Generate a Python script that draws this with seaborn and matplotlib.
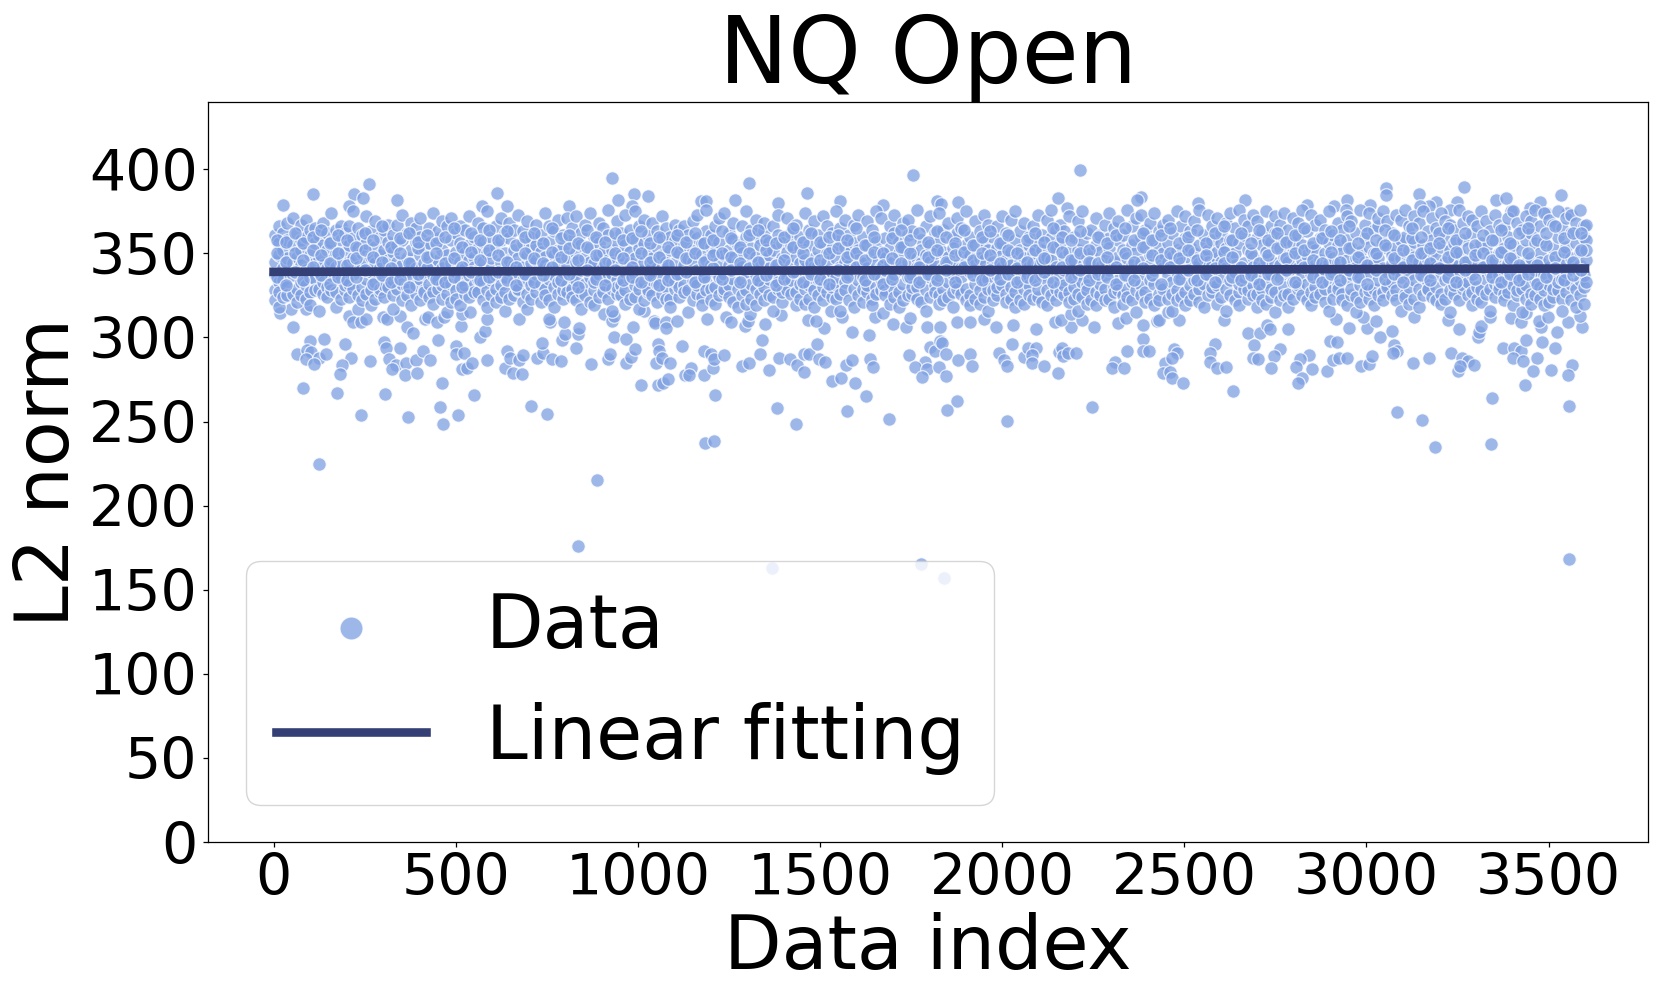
import matplotlib
matplotlib.use("Agg")
import matplotlib.pyplot as plt
import pandas as pd
import seaborn as sns

title = "NQ Open"
x_label = "Data index"
y_label = "L2 norm"
fit_x = [0, 3600]
fit_y = [339, 341]
x_ticks = [0, 500, 1000, 1500, 2000, 2500, 3000, 3500]
y_ticks = [0, 50, 100, 150, 200, 250, 300, 350, 400]

sparse_points = [
(25,379),(109,385),(222,385),(262,391),(245,383),(206,378),(338,382),(614,386),(929,395),(946,382),(989,385),(1028,384),(1304,392),(1266,382),(1172,381),(1187,381),(1384,380),(1463,386),(1554,381),(1672,379),(642,378),(572,378),(984,378),(811,378),
(17,314.5),(49,317),(89,317),(54,306),(99,298),(138,299),(65,290),(91,292.5),(104,291.5),(88,287),(124,288),(143,290),(112,284.5),(197,296),(213,288),(189,283.5),(181,278),(82,270),(173,267),(265,286),(304,297),(310,294),(347,294),(317,287),(336,283.5),(326,281),(364,285),(390,286.5),(361,277.5),(393,278.6),(411,292),(430,286.5),(451,298.4),(461,272.7),(305,266.5),(239,253.7),(369,252.7),(457,258.8),(505,254),(466,248.7),(549,266),(502,295),(500,290),(523,290.7),(517,281),(531,281.8),(544,285),(586,286.5),(567,300),(581,304),(634,282),(640,291.7),(648,288),(658,279),(683,278),(674,286.5),(686,289.7),(706,259),(750,254.7),(723,288),(740,291),(736,296.6),(765,287.3),(788,285.8),(792,298.4),(800,302),(835,302),(830,293.7),(839,305.8),(871,284),(917,287),(923,290.3),(934,300),(967,299),(968,285),(980,288.5),(993,293),(987,306),(1009,271.5),(1054,296.4),(1058,291.7),(1050,285),(1066,287.7),(1087,285),(1120,294.9),(1056,272),(1070,273),(1083,275),(1130,277.4),(1145,281.6),(1140,277.8),(1181,291.7),(1181,277.4),(1205,282),(1202,290),(1210,287),(1236,289.5),(1212,265.6),(1183,237.4),(1208,238.6),(1287,283),(1306,284.6),(1336,290),(1342,298.6),(1361,280.4),(1388,288),(1419,287),(1437,283.8),(1456,290),(1471,290),(1496,287),(1513,285.5),(1456,279.4),(1493,296),(1512,305.4),(1533,274),(1558,275.6),(1572,283.6),(1587,286.3),(1597,273),(1589,303),(1635,301.4),(1636,287),(1646,282.6),(1700,308),(1625,265),(1573,256),(1381,258),(1435,248.5),(1689,251.3),
(208,313),(219,309),(240,309),(253,311),(301,312),(311,311),(346,313),(366,306),(382,302.4),(417,311),(425,312),(449,309),(467,312),(515,307),(516,314),(539,315),(587,311),(673,311),(759,309),(757,311),(798,309),(908,314),(929,310),(935,313),(1018,315.5),(1044,310),(1046,308.3),(1077,309),(1077,305.4),(1108,309.5),(1190,310.7),(1243,312),(1255,309),(1294,307),(1303,310),(1309,314),(1349,308),(1392,313.5),(1468,310.5),(1490,310),(1529,316),(1561,312),(1650,312),(1674,314.6),
(1755,396.6),(2214,399.6),(1820,381),(1833,379.6),(1880,380.4),(2153,383),(2178,377),(2381,383.8),(2369,381.6),(2538,379.8),(2667,381.6),(2838,379),(2912,378.4),(2948,382),(2943,375.6),(3011,378.8),(3055,388.7),(3053,384.8),(3144,385.4),(3269,389.7),(3192,380.8),(3171,378),(3147,378),(3248,380.6),(3229,376),(3356,381.6),(3384,382.8),(3476,380.6),(3450,377),(3533,384.8),(3396,375),(3550,374),(3494,374),
(1735,306.3),(1747,311.5),(1745,289.7),(1795,306.3),(1829,306),(1803,294.5),(1816,291.7),(1829,297.6),(1836,296.6),(1847,290),(1788,285.7),(1761,282.6),(1793,281),(1827,282.2),(1780,276.6),(1845,277),(1880,286.7),(1913,290.3),(1917,283.2),(1877,309.3),(1912,309),(1949,310.7),(1982,306.5),(2029,307.3),(2094,305),(1992,291),(2004,286.7),(2013,282.8),(2026,296.4),(1877,262),(1848,256.8),(2014,250.5),(2060,288.3),(2070,294),(2092,294),(2082,289.5),(2081,284.8),(2114,282.8),(2153,278.8),(2156,291.3),(2165,293.7),(2166,289),(2181,291),(2203,291),(2246,258.8),(2190,306.3),(2145,309),(2161,310.5),(2189,313.7),(2220,310.5),(2253,306),(2318,308.3),(2339,311.7),(2386,307.5),(2386,299),(2342,291.7),(2386,291.7),(2402,291.7),(2310,285.7),(2302,281.6),(2334,281.6),(2426,310),(2431,310.3),(2485,310.5),(2455,315),(2446,285),(2471,293),(2479,290.5),(2466,288),(2441,278.8),(2461,279.4),(2467,275.8),(2497,272.7),(2610,310.5),(2583,296.4),(2570,291),(2572,285.7),(2590,281.8),(2614,282.2),(2634,268),(2676,302.8),(2708,302.8),(2727,307.5),(2736,305),(2786,305),(2691,295.6),(2762,293.3),(2746,289),(2690,287.7),(2703,287),(2738,281.8),(2842,289.7),(2818,287),(2807,282.6),(2852,281.4),(2822,276),(2811,272.7),(2892,280),(2908,286.5),(2924,288),(2947,288),(2901,298),(2919,297),(2916,310.7),(2951,305.5),(3001,305.4),(3025,310),(2992,312),(2985,283),(3007,284.2),(3016,289),(3036,300.4),(3069,303.8),(3077,295.4),(3085,291.7),(3072,291),(3131,312),(3127,285),(3171,288),(3083,255.6),(3153,251),(3189,234.7),(3341,236.6),(3225,310.5),(3253,304.8),(3232,291),(3262,288),(3278,286),(3296,283.6),(3252,280),(3258,283),(3305,300),(3309,303),(3314,307),(3340,312),(3374,293.7),(3406,294),(3425,291.7),(3402,287.5),(3429,286),(3468,288),(3457,280),(3508,280.8),(3436,272),(3346,264),(3438,298.6),(3481,297),(3518,294),(3398,311.5),(3425,309),(3438,314.5),(3478,306),(3474,310),(3498,312),(3522,303),(3554,309),(3591,306),(3587,313),(3563,283.6),(3554,277.8),(3557,259),
(837,176),(889,215),(125,224.5),(1369,163),(1776,165.5),(1840,157),(3555,168.5),
]

cloud_rows = [
(4,345,328,361,322,338),(14,356,333,366,327,349,318),(27,341,362,324,352,334),(38,368,330,347,325,358),(52,337,355,371,326,344),(63,329,362,348,321,340),(76,352,367,333,325,343,358),(88,340,323,360,331,370),(99,349,364,327,336,319),(113,335,356,344,365,328),
(124,361,329,347,339,316),(136,343,368,326,355,333),(148,330,352,362,324,341),(159,346,337,374,328,357),(171,327,364,342,350,318),(184,358,334,366,323,345),(196,339,351,328,362,331),(207,366,332,345,355,324),(219,347,329,375,338,359),(231,325,353,342,365,317),
(244,341,361,330,350,322),(255,372,335,345,326,356),(267,328,348,363,339,319),(279,354,333,369,323,344),(291,342,360,327,349,329),(303,364,336,352,324,331),(315,330,346,367,340,357),(328,351,325,361,334,317),(340,338,367,329,345,355),(353,322,358,343,373,332),
(365,347,330,362,325,339),(378,368,336,352,319,344),(390,326,357,341,365,331),(402,349,322,371,335,360),(414,338,353,328,344,327),(427,365,332,348,324,356),(439,343,374,327,337,320),(451,329,359,346,363,334),(463,352,323,341,369,331),(476,337,366,326,349,315),
(488,358,332,344,321,371),(500,328,351,362,339,323),(512,345,366,334,356,319),(525,326,364,341,350,331),(537,355,337,372,324,346),(549,331,348,360,327,342),(561,368,335,353,327,340),(574,322,345,365,333,357),(586,350,328,375,339,318),(598,341,360,325,347,334),
(610,366,329,354,337,321),(623,344,358,331,371,324),(635,327,350,362,336,316),(647,359,340,368,323,346),(659,333,352,325,343,364),(672,373,328,347,338,329),(684,342,356,321,363,334),(696,326,349,369,335,317),(708,353,331,344,360,323),(721,338,367,327,346,355),
(733,321,361,340,332,351),(745,348,329,374,325,343),(757,335,357,322,366,341),(770,363,330,349,337,318),(782,326,344,370,352,333),(794,354,339,323,361,328),(806,343,371,331,348,327),(819,329,358,336,365,324),(831,350,322,345,372,334),(843,340,362,327,355,317),
(856,367,332,347,325,341),(868,321,353,374,336,345),(880,344,328,360,333,319),(893,356,338,368,324,349),(905,331,365,342,327,351),(917,361,323,346,376,336),(930,338,352,329,344,316),(942,369,326,357,334,330),(954,343,362,331,349,325),(966,328,355,373,339,320),
(979,351,335,364,323,344),(991,324,347,358,331,375),(1003,340,366,329,353,317),(1016,356,333,345,370,322),(1028,327,361,338,350,328),(1040,368,342,325,347,334),(1052,332,354,363,321,341),(1065,349,326,372,337,359),(1077,341,365,330,323,345),(1089,323,352,336,360,318),
(1102,358,329,344,367,333),(1114,337,350,324,364,330),(1126,366,343,331,355,327),(1138,328,347,361,339,315),(1151,352,369,334,322,345),(1163,340,359,326,373,331),(1175,324,349,337,356,319),(1188,363,333,346,328,376),(1200,343,329,354,322,361),(1212,330,366,339,351,320),
(1224,357,325,345,336,371),(1237,338,374,327,349,329),(1249,352,331,362,324,343),(1261,321,347,368,335,358),(1274,345,329,355,340,318),(1286,366,334,325,350,342),(1298,328,360,339,375,320),(1310,353,323,344,332,364),(1323,337,370,329,348,319),(1335,359,326,342,355,333),
(1347,330,363,346,322,368),(1360,349,335,325,357,341),(1372,324,366,338,352,316),(1384,344,329,361,333,373),(1396,356,321,347,340,327),(1409,336,371,331,351,328),(1421,362,343,326,355,334),(1433,327,348,367,339,319),(1446,353,332,323,360,344),(1458,341,374,329,346,320),
(1470,323,355,337,364,331),(1483,347,328,369,342,318),(1495,361,335,352,325,343),(1507,330,372,340,322,356),(1519,350,327,345,366,334),(1532,339,362,324,353,330),(1544,375,331,347,336,323),(1556,326,358,342,365,316),(1569,354,333,370,328,345),(1581,343,361,322,350,337),
(1593,329,367,340,356,318),(1605,352,325,346,373,334),(1618,336,360,329,344,321),(1630,369,341,327,355,331),(1642,323,349,364,338,319),(1655,357,330,345,375,326),(1667,342,371,335,351,328),(1679,328,359,347,325,340),(1692,366,333,353,320,344),(1704,338,362,329,373,324),
(1716,350,327,343,357,318),(1728,332,368,340,322,354),(1741,361,345,325,370,336),(1753,326,351,337,363,330),(1765,347,330,376,342,323),(1778,358,334,321,352,344),(1790,340,366,328,349,316),(1802,324,355,372,336,345),(1815,362,331,343,327,350),(1827,337,374,325,357,320),
(1839,351,329,364,341,322),(1851,333,348,368,324,344),(1864,359,338,327,353,318),(1876,343,371,331,362,329),(1888,326,350,336,365,341),(1901,375,329,346,322,355),(1913,339,360,325,349,319),(1925,355,332,369,343,323),(1938,328,363,338,347,320),(1950,346,324,357,373,334),
(1962,335,367,329,352,316),(1974,360,341,322,345,328),(1987,325,353,366,337,330),(1999,349,331,372,342,356),(2011,338,362,326,346,321),(2024,370,330,351,323,343),(2036,327,358,340,375,318),(2048,345,334,363,322,352),(2061,368,329,347,338,320),(2073,331,355,325,360,342),
(2085,350,366,336,323,344),(2098,324,343,373,329,357),(2110,361,337,352,321,346),(2122,334,370,328,348,319),(2134,346,325,359,340,376),(2147,329,364,342,353,322),(2159,356,332,367,337,327),(2171,340,348,325,363,331),(2184,372,327,351,344,321),(2196,335,360,323,346,330),
(2208,352,338,369,326,316),(2220,324,357,343,375,333),(2233,347,331,362,328,320),(2245,364,339,350,322,345),(2257,327,371,336,355,319),(2270,351,342,325,361,332),(2282,337,367,329,346,322),(2294,359,323,353,374,340),(2307,330,345,365,327,318),(2319,348,334,358,369,328),
(2331,325,361,341,352,320),(2343,376,337,329,347,324),(2356,343,355,366,322,333),(2368,328,351,371,339,315),(2380,360,331,345,325,373),(2393,338,364,327,354,321),(2405,349,323,343,368,334),(2417,332,358,374,340,319),(2430,353,326,347,363,322),(2442,341,367,330,350,329),
(2454,323,356,337,370,345),(2467,362,333,348,326,316),(2479,339,375,328,352,322),(2491,351,344,366,324,335),(2503,327,359,340,372,319),(2516,347,331,363,322,354),(2528,334,369,342,326,350),(2540,376,329,355,321,344),(2553,340,361,332,348,318),(2565,325,352,373,337,345),
(2577,358,343,327,366,330),(2590,331,371,347,351,320),(2602,345,362,336,324,356),(2614,368,329,341,353,316),(2626,334,358,374,325,347),(2639,350,339,365,322,343),(2651,327,376,332,356,319),(2663,361,344,370,329,336),(2676,338,352,323,366,328),(2688,348,373,331,342,325),
(2700,326,359,369,335,318),(2713,355,341,363,329,322),(2725,333,375,346,351,320),(2737,366,324,338,357,329),(2749,344,362,327,372,315),(2762,322,353,336,367,343),(2774,358,330,348,374,325),(2786,339,364,326,345,318),(2799,351,371,333,323,356),(2811,329,361,341,368,331),
(2823,346,325,355,337,376),(2836,363,332,349,322,342),(2848,327,373,338,354,319),(2860,352,343,367,330,324),(2872,336,359,370,326,346),(2885,364,321,350,340,329),(2897,344,375,333,356,316),(2909,328,361,347,323,339),(2922,355,368,331,345,329),(2934,340,326,364,351,322),
(2946,372,335,346,358,319),(2959,325,353,369,338,329),(2971,347,362,324,342,315),(2983,331,376,351,336,321),(2995,359,342,327,367,345),(3008,338,374,323,354,328),(3020,350,329,364,344,319),(3032,366,334,371,325,347),(3045,327,357,341,375,322),(3057,353,339,369,331,330),
(3069,344,362,325,349,333),(3082,373,328,354,322,340),(3094,336,370,347,358,316),(3106,360,326,343,376,324),(3118,330,352,366,338,320),(3131,348,372,323,357,334),(3143,341,368,329,345,318),(3155,325,355,375,336,350),(3168,363,333,346,328,329),(3180,339,371,351,324,358),
(3192,347,330,365,342,322),(3205,374,326,354,337,320),(3217,334,360,345,323,369),(3229,352,328,367,340,315),(3241,326,364,347,331,356),(3254,343,376,336,322,350),(3266,358,329,368,341,331),(3278,333,372,346,325,353),(3291,362,338,327,370,319),(3303,345,351,323,366,330),
(3315,328,375,356,340,321),(3328,354,335,369,326,343),(3340,339,363,329,348,316),(3352,373,324,346,358,332),(3365,331,367,350,337,329),(3377,353,341,365,326,322),(3390,327,360,344,371,334),(3402,348,375,331,355,319),(3414,338,368,325,342,328),(3426,364,329,352,336,315),
(3439,344,372,323,358,331),(3451,326,362,347,369,320),(3463,356,334,376,340,325),(3476,330,350,366,323,345),(3488,374,337,328,357,319),(3500,342,370,346,331,321),(3512,353,324,367,338,329),(3525,328,360,375,343,333),(3537,349,335,365,323,316),(3549,371,339,327,354,344),
(3561,332,362,347,322,373),(3574,356,329,368,341,318),(3586,343,376,325,351,334),(3596,366,330,360,337,320),(3604,358,333,367,346,352),
]

inner_rows = [
(9,350,336,358),(33,345,357,331),(58,362,339,350),(82,334,356,346),(107,342,360,352),(130,337,349,364),(154,356,332,344),(178,350,361,336),(201,343,358,334),(225,336,354,347),
(250,352,340,362),(273,358,332,348),(297,345,366,337),(322,354,341,333),(346,359,335,350),(371,344,362,330),(396,353,338,357),(420,341,361,348),(445,356,335,350),(470,360,344,333),
(494,347,336,365),(518,354,342,330),(543,339,362,351),(567,358,346,334),(592,336,352,364),(616,349,339,358),(641,363,334,345),(665,355,342,331),(690,338,360,350),(714,347,333,362),
(739,356,344,337),(763,342,365,351),(788,334,348,359),(812,361,338,353),(837,346,330,356),(861,354,340,364),(886,335,349,360),(911,357,344,331),(936,340,362,350),(960,347,334,358),
(985,359,342,336),(1009,350,363,333),(1034,345,337,356),(1058,360,348,331),(1083,334,354,343),(1107,351,361,338),(1132,339,357,347),(1157,362,333,350),(1181,345,356,336),(1206,358,341,349),
(1230,335,363,350),(1255,348,340,359),(1280,354,333,344),(1304,341,361,350),(1329,364,345,334),(1353,337,352,358),(1378,356,343,331),(1402,346,360,335),(1427,339,354,365),(1452,350,333,357),
(1476,344,362,338),(1501,357,346,335),(1525,332,350,360),(1550,361,340,353),(1575,348,336,358),(1599,342,365,350),(1624,355,334,346),(1648,338,360,351),(1673,350,343,332),(1697,359,335,347),
(1722,344,354,364),(1747,336,350,358),(1771,362,342,333),(1796,348,357,338),(1820,334,352,363),(1845,345,360,340),(1870,356,333,349),(1894,342,364,351),(1919,337,355,346),(1944,360,334,350),
(1968,349,340,363),(1993,335,356,344),(2017,352,361,338),(2042,341,350,333),(2067,358,345,336),(2091,334,362,352),(2116,347,339,357),(2140,354,365,333),(2165,342,351,360),(2190,336,346,358),
(2214,363,340,350),(2239,352,334,345),(2263,344,360,338),(2288,336,356,348),(2312,361,342,332),(2337,350,337,365),(2362,345,358,334),(2386,354,341,362),(2411,337,349,358),(2436,361,332,346),
(2460,350,342,365),(2485,335,356,347),(2509,360,340,352),(2534,346,334,364),(2559,356,338,349),(2583,341,362,333),(2608,351,366,344),(2632,336,358,348),(2657,362,342,334),(2682,350,356,337),
(2706,344,364,332),(2731,358,349,338),(2755,335,353,362),(2780,347,340,357),(2805,361,333,350),(2829,342,365,352),(2854,336,356,346),(2878,359,344,333),(2903,351,338,363),(2928,345,358,334),
(2952,340,353,366),(2977,356,336,348),(3001,362,343,332),(3026,350,340,358),(3051,335,355,364),(3075,347,361,338),(3100,342,352,333),(3124,359,346,365),(3149,337,350,360),(3174,353,334,344),
(3198,362,341,356),(3223,348,336,365),(3247,333,358,351),(3272,345,362,340),(3297,355,335,349),(3321,342,361,350),(3346,358,336,346),(3370,351,364,333),(3395,338,356,347),(3420,362,343,334),
(3444,350,338,365),(3469,343,358,332),(3494,355,336,362),(3518,348,341,366),(3543,359,334,351),(3568,345,362,337),(3590,352,340,362),
]

xs = [p[0] for p in sparse_points]
ys = [p[1] for p in sparse_points]
for row in cloud_rows + inner_rows:
    for v in row[1:]:
        xs.append(row[0])
        ys.append(v)

points = pd.DataFrame({"index": xs, "norm": ys})
fit = pd.DataFrame({"index": fit_x, "norm": fit_y})

sns.set_theme(style="ticks", rc={
    "font.family": ["DejaVu Sans"],
    "text.color": "black", "axes.labelcolor": "black",
    "xtick.color": "black", "ytick.color": "black",
    "axes.edgecolor": "black", "axes.linewidth": 0.9,
})

fig = plt.figure(figsize=(16.61, 9.97), dpi=100)
ax = fig.add_axes([208/1661, 1-842/997, (1648-208)/1661, (842-102)/997])
sns.scatterplot(data=points, x="index", y="norm", ax=ax, s=95, color="#7d9fe2",
                alpha=0.75, edgecolor="white", linewidth=0.9, label="Data")
sns.lineplot(data=fit, x="index", y="norm", ax=ax, color="#333f75", linewidth=6.2,
             label="Linear fitting", errorbar=None, solid_capstyle="projecting")

ax.set_xlim(-180, 3773)
ax.set_ylim(0, 440)
ax.set_xticks(x_ticks)
ax.set_yticks(y_ticks)
ax.tick_params(labelsize=41, length=3.5, width=0.9, pad=4)
ax.set_title(title, fontsize=66.5, pad=11.5)
ax.set_xlabel(x_label, fontsize=54, labelpad=3)
ax.set_ylabel(y_label, fontsize=54, labelpad=3)
ax.legend(loc="lower left", fontsize=54, markerscale=1.7)

fig.savefig("out.png", dpi=100)
